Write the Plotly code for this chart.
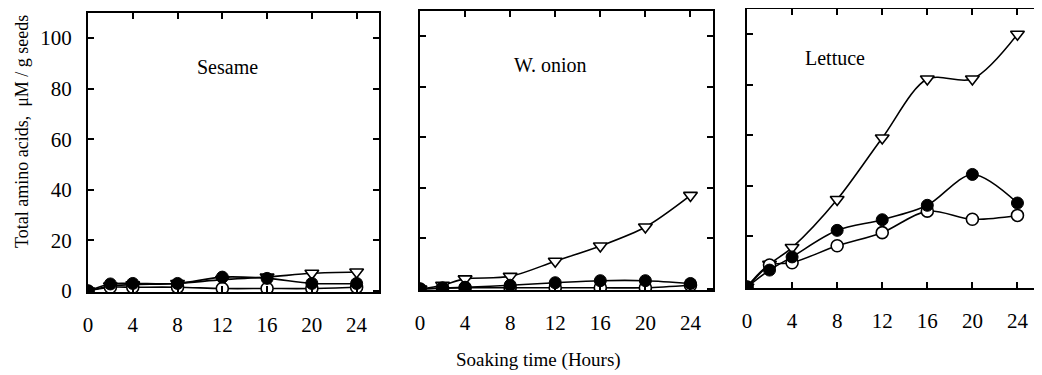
import plotly.graph_objects as go

hours = [0, 2, 4, 8, 12, 16, 20, 24]
panel_names = ["Sesame", "W. onion", "Lettuce"]

sesame_open = [0, 1.5, 1.5, 1.5, 1.0, 1.0, 1.0, 1.5]
sesame_filled = [0, 2.8, 3.0, 3.0, 5.5, 5.0, 3.0, 3.0]
sesame_tri = [0, 2.0, 2.5, 3.0, 4.5, 5.5, 7.0, 7.5]

onion_open = [0, 0.3, 0.5, 0.5, 0.5, 0.5, 0.5, 1.5]
onion_filled = [0, 0.4, 0.7, 1.5, 2.5, 3.3, 3.3, 2.2]
onion_tri = [0, 1.5, 4.0, 5.0, 11.0, 17.0, 24.5, 37.0]

lettuce_open = [0, 8.7, 9.6, 16.3, 21.5, 30.0, 26.8, 28.3]
lettuce_filled = [0, 6.7, 11.9, 22.4, 26.6, 32.3, 44.5, 33.2]
lettuce_tri = [0, 9.0, 15.6, 34.6, 58.9, 82.2, 82.2, 99.9]

x_ticks = [0, 4, 8, 12, 16, 20, 24]
y_ticks = [0, 20, 40, 60, 80, 100]

series = [
    (sesame_tri, sesame_open, sesame_filled),
    (onion_tri, onion_open, onion_filled),
    (lettuce_tri, lettuce_open, lettuce_filled),
]

# the page body has an 8px default margin, so the figure is drawn 8px in from the
# window's top-left corner; size the figure to fill the rest of the 1042x375 window
OFF = 8
W, H = 1042 - OFF, 375 - OFF
FONT = "Liberation Serif, Times New Roman, serif"


def px_x(p):
    return (p - OFF) / W


def px_y(p):
    return 1 - (p - OFF) / H


# window-pixel geometry of each panel: (left, right, top, bottom)
boxes = [(88, 379, 12.7, 292.3), (420, 713, 10.7, 290.3), (747, 1040, 8.7, 288.3)]

fig = go.Figure()
for i, (tri, opn, fil) in enumerate(series):
    xa = "x" if i == 0 else f"x{i+1}"
    ya = "y" if i == 0 else f"y{i+1}"
    line = dict(color="black", width=1.6, shape="spline", smoothing=0.9)
    fig.add_trace(go.Scatter(x=hours, y=tri, xaxis=xa, yaxis=ya, mode="lines+markers",
                             line=line,
                             marker=dict(symbol="triangle-down", size=12, color="white",
                                         line=dict(color="black", width=1.6))))
    fig.add_trace(go.Scatter(x=hours, y=opn, xaxis=xa, yaxis=ya, mode="lines+markers",
                             line=line,
                             marker=dict(symbol="circle", size=12, color="white",
                                         line=dict(color="black", width=1.6))))
    fig.add_trace(go.Scatter(x=hours, y=fil, xaxis=xa, yaxis=ya, mode="lines+markers",
                             line=line,
                             marker=dict(symbol="circle", size=12, color="black",
                                         line=dict(color="black", width=1))))

layout = dict(width=W, height=H, margin=dict(l=0, r=0, t=0, b=0, pad=0, autoexpand=False),
              paper_bgcolor="white", plot_bgcolor="white", showlegend=False,
              template="none",
              font=dict(family=FONT, color="black", size=21))

for i, (l, r, t, b) in enumerate(boxes):
    sx = "" if i == 0 else str(i + 1)
    layout["xaxis" + sx] = dict(
        domain=[px_x(l), px_x(r)], range=[0, 26], anchor="y" + sx, automargin=False,
        tickvals=x_ticks, ticks="inside", ticklen=6, tickwidth=1.5, tickcolor="black",
        showline=True, linecolor="black", linewidth=2, mirror="ticks",
        showgrid=False, zeroline=False, ticklabelstandoff=12,
        tickfont=dict(family=FONT, size=21, color="black"))
    layout["yaxis" + sx] = dict(
        domain=[px_y(b), px_y(t)], range=[-0.5, 110], anchor="x" + sx, automargin=False,
        tickvals=y_ticks, ticks="inside", ticklen=6, tickwidth=1.5, tickcolor="black",
        showline=True, linecolor="black", linewidth=2, mirror="ticks",
        showgrid=False, zeroline=False, showticklabels=(i == 0), ticklabelstandoff=10,
        tickfont=dict(family=FONT, size=21, color="black"))

fig.update_layout(**layout)

label_pos = [(12.5, 88.5), (11.6, 88.5), (7.8, 90.5)]
for i, name in enumerate(panel_names):
    sx = "" if i == 0 else str(i + 1)
    fig.add_annotation(text=name, x=label_pos[i][0], y=label_pos[i][1],
                       xref="x" + sx, yref="y" + sx, showarrow=False,
                       xanchor="center", yanchor="middle",
                       font=dict(family=FONT, size=20, color="black"))

fig.add_annotation(text="Soaking time (Hours)", x=px_x(538), y=px_y(360),
                   xref="paper", yref="paper", showarrow=False,
                   xanchor="center", yanchor="middle",
                   font=dict(family=FONT, size=19, color="black"))
fig.add_annotation(text="Total amino acids,  μM / g seeds", x=px_x(22), y=px_y(132),
                   xref="paper", yref="paper", showarrow=False, textangle=-90,
                   xanchor="center", yanchor="middle",
                   font=dict(family=FONT, size=18, color="black"))

fig.write_html("out.html")
